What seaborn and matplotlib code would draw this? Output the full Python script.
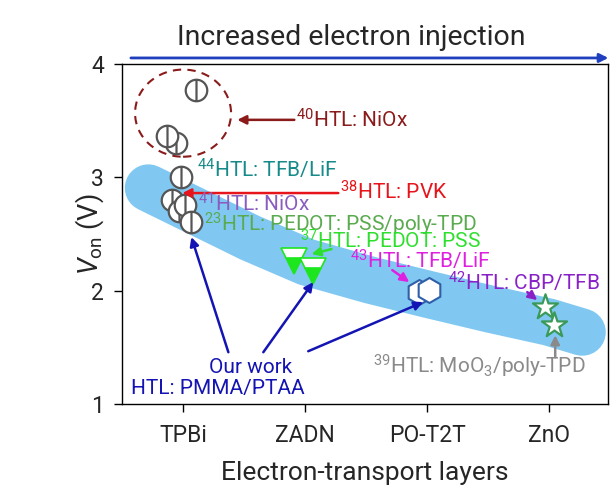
import numpy as np
import pandas as pd
import matplotlib
matplotlib.use("Agg")
import matplotlib.pyplot as plt
from matplotlib.path import Path
from matplotlib.patches import Ellipse, FancyArrowPatch
import seaborn as sns

# categories on the x axis
etl = ["TPBi", "ZADN", "PO-T2T", "ZnO"]

# V_on values (x is category index with small offsets)
circ_x = [-0.055, -0.13, 0.11, -0.02, -0.093, -0.033, 0.02, 0.062]
circ_y = [3.305, 3.36, 3.77, 3.005, 2.80, 2.70, 2.755, 2.61]
tri_x = [0.905, 1.064]
tri_y = [2.26, 2.17]
hex_x = [1.928, 2.01]
hex_y = [1.99, 2.005]
star_x = [2.96, 3.04]
star_y = [1.858, 1.70]

# trend band (centre line)
band_x = [-0.284, 0.0, 0.551, 1.009, 1.532, 1.999, 2.514, 2.997, 3.268]
band_y = [2.906, 2.756, 2.465, 2.253, 2.094, 1.970, 1.838, 1.723, 1.635]

sns.set_style("ticks")
plt.rcParams["font.family"] = ["Roboto", "DejaVu Sans"]
plt.rcParams["mathtext.fontset"] = "custom"
plt.rcParams["mathtext.rm"] = "Roboto"
plt.rcParams["mathtext.it"] = "Roboto:italic"

fig = plt.figure(figsize=(6.13, 4.87), dpi=100)
ax = fig.add_axes([0.199, 0.170, 0.793, 0.699])

ax.plot(band_x, band_y, color="#80c8f2", lw=34, solid_capstyle="round",
        solid_joinstyle="round", zorder=1)

# circle with a vertical line through it
circ_marker = Path.make_compound_path(
    Path.unit_circle(), Path([[0, -1], [0, 1]], [Path.MOVETO, Path.LINETO]))
for i, (x, y) in enumerate(zip(circ_x, circ_y)):
    ax.plot([x], [y], marker=circ_marker, ms=15.5, mfc="white", mec="#555555",
            mew=1.6, ls="none", zorder=3 + i * 0.01)

for x, y in zip(tri_x, tri_y):
    ax.plot([x], [y], marker="v", ms=19, mfc="#1ee61e", mfcalt="white",
            fillstyle="bottom", mec="#1ee61e", mew=1.2, ls="none", zorder=3)

df_hex = pd.DataFrame({"x": hex_x, "y": hex_y})
sns.scatterplot(data=df_hex, x="x", y="y", marker="h", s=18 ** 2, color="white",
                edgecolor="#2f5fa8", linewidth=1.5, ax=ax, zorder=3)
df_star = pd.DataFrame({"x": star_x, "y": star_y})
sns.scatterplot(data=df_star, x="x", y="y", marker="*", s=19 ** 2, color="white",
                edgecolor="#3a9a5a", linewidth=1.6, ax=ax, zorder=3)

ax.add_patch(Ellipse((0.0, 3.565), 0.786, 0.768, fill=False, ls=(0, (4, 3)),
                     lw=1.5, ec="#8b1a1a", zorder=2))

def arrow(x0, y0, x1, y1, c, lw=1.8, ms=13):
    ax.annotate("", xy=(x1, y1), xytext=(x0, y0),
                arrowprops=dict(arrowstyle="-|>", color=c, lw=lw,
                                mutation_scale=ms, shrinkA=0, shrinkB=0),
                zorder=5)

fs = 15
labels = [
    (0.921, 3.435, "$^{40}$HTL: NiOx", "#8b1a1a"),
    (0.117, 2.994, "$^{44}$HTL: TFB/LiF", "#178a8a"),
    (1.287, 2.800, "$^{38}$HTL: PVK", "#e8141c"),
    (0.125, 2.696, "$^{41}$HTL: NiOx", "#8a5cc0"),
    (0.175, 2.520, "$^{23}$HTL: PEDOT: PSS/poly-TPD", "#5aaa50"),
    (0.960, 2.373, "$^{37}$HTL: PEDOT: PSS", "#2ee02e"),
    (1.369, 2.197, "$^{43}$HTL: TFB/LiF", "#e020e0"),
    (2.171, 2.005, "$^{42}$HTL: CBP/TFB", "#8a20c8"),
    (1.557, 1.270, "$^{39}$HTL: MoO$_3$/poly-TPD", "#8a8a8a"),
    (-0.43, 1.094, "HTL: PMMA/PTAA", "#1414b4"),
]
for x, y, t, c in labels:
    ax.text(x, y, t, color=c, fontsize=fs, ha="left", va="baseline", zorder=6)
ax.text(0.551, 1.275, "Our work", color="#1414b4", fontsize=fs, ha="center",
        va="baseline", zorder=6)

arrow(0.911, 3.506, 0.444, 3.506, "#8b1a1a")
arrow(1.271, 2.861, -0.006, 2.861, "#e8141c")
arrow(1.215, 2.367, 1.052, 2.323, "#2ee02e")
arrow(1.713, 2.182, 1.852, 2.076, "#e020e0")
arrow(2.818, 1.988, 2.90, 1.917, "#8a20c8")
arrow(3.047, 1.414, 3.047, 1.608, "#8a8a8a")
arrow(0.371, 1.458, 0.068, 2.473, "#1414b4")
arrow(0.657, 1.458, 1.066, 2.076, "#1414b4")
arrow(1.025, 1.467, 1.966, 1.900, "#1414b4")

ax.set_xlim(-0.5, 3.48)
ax.set_ylim(1, 4)
ax.set_xticks(range(len(etl)))
ax.set_xticklabels(etl)
ax.set_yticks([1, 2, 3, 4])
ax.tick_params(direction="out", length=6, width=1, labelsize=16.5, color="black")
ax.tick_params(axis="x", pad=8)
ax.tick_params(axis="y", pad=7)
ax.set_xlabel("Electron-transport layers", fontsize=19, labelpad=10)
ax.set_ylabel("$V_{\\mathrm{on}}$ (V)", fontsize=19.5, labelpad=-11)
for s in ax.spines.values():
    s.set_visible(True)
    s.set_color("black")
    s.set_linewidth(1)

fig.text(0.573, 0.922, "Increased electron injection", fontsize=20.5,
         ha="center", va="center")
fig.patches.append(FancyArrowPatch(
    (0.209, 0.881), (0.997, 0.881), transform=fig.transFigure,
    arrowstyle="-|>", mutation_scale=13, lw=2, color="#1f3fbf"))

fig.savefig("out.png", dpi=100)
